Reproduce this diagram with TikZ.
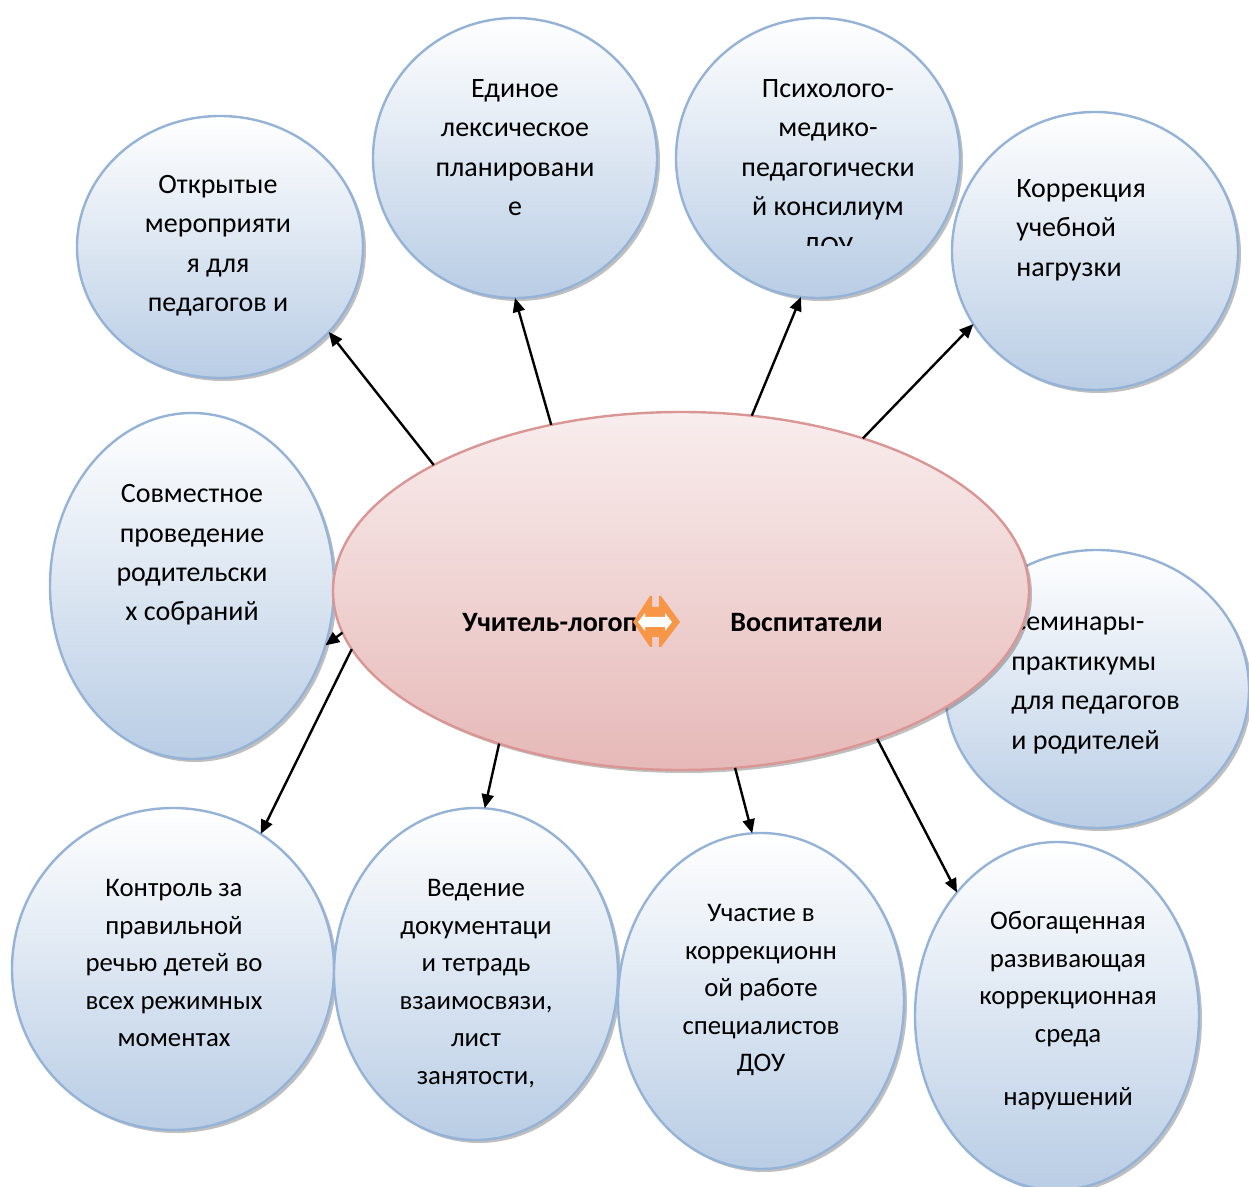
\documentclass[tikz,border=0pt]{standalone}
\usepackage{fontspec}
\setmainfont{Carlito}
\usetikzlibrary{shapes.geometric}
\usetikzlibrary{shadows}
\usetikzlibrary{arrows.meta}
\definecolor{bubbleline}{HTML}{95B3D7}
\definecolor{bubblefill}{HTML}{B9CDE5}
\definecolor{hubline}{HTML}{D99694}
\definecolor{hubtop}{HTML}{F9EDED}
\definecolor{hubfill}{HTML}{E6B9B8}
\definecolor{swapfill}{HTML}{F79646}
\tikzstyle{bubble}=[ellipse, draw=bubbleline, line width=1.2pt, top color=white, bottom color=bubblefill,
    inner sep=0pt, outer sep=0pt,
    drop shadow={shadow xshift=1.5pt, shadow yshift=-1.5pt, fill=black, opacity=0.25}]
\tikzstyle{hub}=[bubble, draw=hubline, top color=hubtop, bottom color=hubfill]
\tikzstyle{lbl}=[inner sep=0pt, align=center, anchor=base, font=\fontsize{14pt}{19.75pt}\selectfont]
\tikzstyle{lbl_left}=[lbl, align=left, anchor=base west]
\tikzstyle{lbl_low}=[lbl, font=\fontsize{13.4pt}{18.75pt}\selectfont]

\tikzstyle{link}=[-{Triangle[length=7pt,width=6pt]}, line width=1.2pt]

\begin{document}
\begin{tikzpicture}[x=0.5pt, y=-0.5pt]
              \useasboundingbox (0,0) rectangle (1249,1187);
              % outer bubbles
              \node[bubble, minimum width=143pt, minimum height=131pt] (open) at (220,247){};
              \node[bubble, minimum width=142pt, minimum height=140pt] (lex) at (515,158){};
              \node[bubble, minimum width=142pt, minimum height=140pt] (pmpk) at (818,158){};
              \node[bubble, minimum width=143pt, minimum height=139pt] (load) at (1095,251){};
              \node[bubble, minimum width=142pt, minimum height=173pt] (meet) at (192,586){};
              \node[bubble, minimum width=152pt, minimum height=139pt] (sem) at (1097,689){};
              \node[bubble, minimum width=161pt, minimum height=161pt] (ctrl) at (173,969){};
              \node[bubble, minimum width=142pt, minimum height=166pt] (docs) at (476,974){};
              \node[bubble, minimum width=143pt, minimum height=168pt] (part) at (761,1001){};
              \node[bubble, minimum width=142pt, minimum height=174pt] (env) at (1057,1016){};
              % texts (anchored at the last line)
              \node[lbl] (open_txt) at (218,312) {Открытые\\мероприяти\\я для\\педагогов и};
              \node[lbl] (lex_txt) at (515,216) {Единое\\лексическое\\планировани\\е};
              \begin{scope}
                \clip (676,18) rectangle (960,246);
                \node[lbl] (pmpk_txt) at (828,255.5) {Психолого-\\медико-\\педагогически\\й консилиум\\ДОУ};
              \end{scope}
              \node[lbl_left] (load_txt) at (1016,276.5) {Коррекция\\учебной\\нагрузки};
              \node[lbl] (meet_txt) at (192,621) {Совместное\\проведение\\родительски\\х собраний};
              \node[lbl_left] (sem_txt) at (1011,749) {Семинары-\\практикумы\\для педагогов\\и родителей};
              \node[lbl_low] (ctrl_txt) at (174,1046.5) {Контроль за\\правильной\\речью детей во\\всех режимных\\моментах};
              \node[lbl_low] (docs_txt) at (476,1084) {Ведение\\документаци\\и тетрадь\\взаимосвязи,\\лист\\занятости,};
              \node[lbl_low] (part_txt) at (761,1071.5) {Участие в\\коррекционн\\ой работе\\специалистов\\ДОУ};
              \node[lbl_low] (env_txt) at (1068,1105) {Обогащенная\\развивающая\\коррекционная\\среда\\[12.75pt]нарушений};
              % centre
              \node[hub, minimum width=348pt, minimum height=179pt] (hub) at (681,591){};
              \node[lbl, anchor=base west, font=\fontsize{14pt}{18pt}\selectfont\bfseries] (logo) at (462,632) {Учитель-логопед};
              \node[lbl, anchor=base west, font=\fontsize{14pt}{18pt}\selectfont\bfseries] (edu) at (730,632) {Воспитатели};
              \fill[swapfill] (633,622) -- (650,596) -- (652,596) -- (652,607) -- (659,607) -- (659,596) -- (661,596)
                -- (680,622) -- (661,647) -- (659,647) -- (659,637) -- (652,637) -- (652,647) -- (650,647) -- cycle;
              \fill[white] (638,622) -- (645,613) -- (645,617) -- (665,617) -- (665,613) -- (672,622)
                -- (665,631) -- (665,627) -- (645,627) -- (645,631) -- cycle;
              % links
              \draw[link](hub.153) -- (open.-38);
              \draw[link](hub.128) -- (lex.-90);
              \draw[link](hub.68) -- (pmpk.-97);
              \draw[link](hub.40) -- (load.-149);
              \draw[link](hub.-173) -- (meet.-24);
              \draw[link](hub.-170) -- (ctrl.57);
              \draw[link](hub.-140) -- (docs.87);
              \draw[link](hub.-73) -- (part.93);
              \draw[link](hub.-37) -- (env.129);
            \end{tikzpicture}
\end{document}
